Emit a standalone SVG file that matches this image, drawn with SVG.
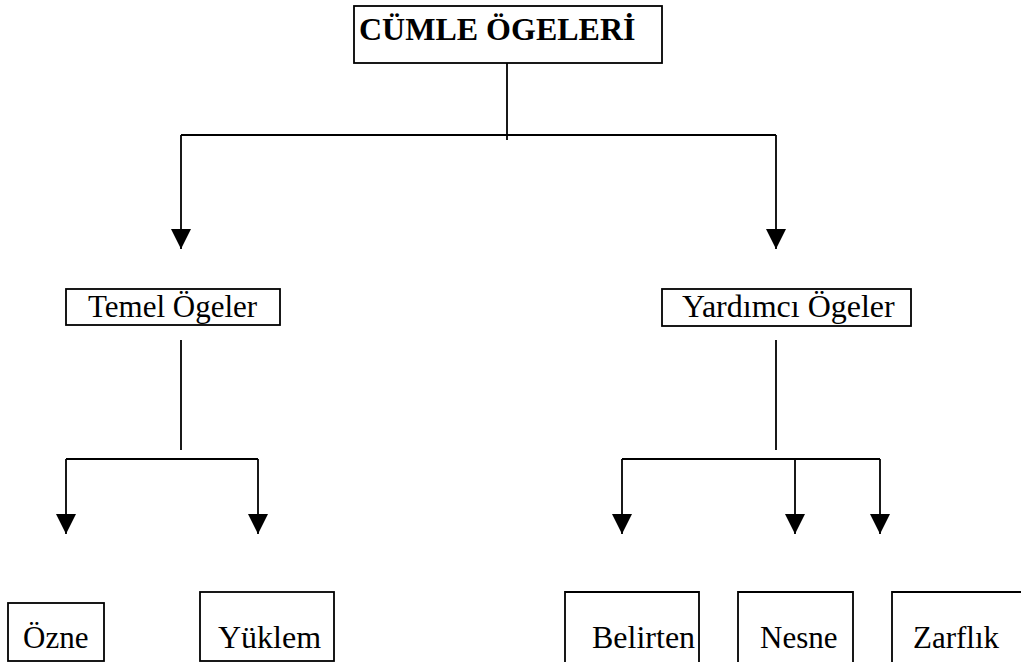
<svg xmlns="http://www.w3.org/2000/svg" width="1021" height="666" viewBox="0 0 1021 666">
<style>
.box{fill:#fff;stroke:#000;stroke-width:1.8}
.open{fill:none;stroke:#000;stroke-width:1.8}
.t{font-family:"Liberation Serif","Times New Roman",serif;font-size:31px;fill:#000}
.tl{font-family:"Liberation Serif","Times New Roman",serif;font-size:32px;fill:#000}
.tb{font-family:"Liberation Serif","Times New Roman",serif;font-size:32px;font-weight:bold;fill:#000}
.c{fill:none;stroke:#000;stroke-width:1.8}
</style>
<defs>
<marker id="ah" viewBox="0 -10 20 20" refX="20" refY="0" markerWidth="20" markerHeight="20" markerUnits="userSpaceOnUse" orient="auto">
<path d="M0,-10 L20,0 L0,10 z" fill="#000"/>
</marker>
</defs>
<rect width="1021" height="666" fill="#fff"/>
<g id="connectors">
<line class="c" x1="507" y1="63" x2="507" y2="140"/>
<line class="c" x1="181" y1="135" x2="776" y2="135"/>
<line class="c" x1="181" y1="135" x2="181" y2="249" marker-end="url(#ah)"/>
<line class="c" x1="776" y1="135" x2="776" y2="249" marker-end="url(#ah)"/>
<line class="c" x1="181" y1="340" x2="181" y2="450"/>
<line class="c" x1="66" y1="459" x2="258" y2="459"/>
<line class="c" x1="66" y1="459" x2="66" y2="534" marker-end="url(#ah)"/>
<line class="c" x1="258" y1="459" x2="258" y2="534" marker-end="url(#ah)"/>
<line class="c" x1="776" y1="340" x2="776" y2="450"/>
<line class="c" x1="622" y1="459" x2="880" y2="459"/>
<line class="c" x1="622" y1="459" x2="622" y2="534" marker-end="url(#ah)"/>
<line class="c" x1="795" y1="459" x2="795" y2="534" marker-end="url(#ah)"/>
<line class="c" x1="880" y1="459" x2="880" y2="534" marker-end="url(#ah)"/>
</g>
<g id="cumle-ogeleri">
<rect class="box" x="354" y="6" width="308" height="57"/>
<text class="tb" x="359" y="40">CÜMLE ÖGELERİ</text>
</g>
<g id="temel-ogeler">
<rect class="box" x="66" y="289" width="214" height="36"/>
<text class="t" x="88" y="317">Temel Ögeler</text>
</g>
<g id="yardimci-ogeler">
<rect class="box" x="662" y="289" width="249" height="37"/>
<text class="tl" x="682" y="317">Yardımcı Ögeler</text>
</g>
<g id="ozne">
<rect class="box" x="8" y="603" width="96" height="58"/>
<text class="t" x="23" y="648">Özne</text>
</g>
<g id="yuklem">
<rect class="box" x="200" y="592" width="134" height="69"/>
<text class="tl" x="218" y="648">Yüklem</text>
</g>
<g id="belirten">
<path class="open" d="M565,662 V592 H699 V662"/>
<text class="tl" x="592" y="648">Belirten</text>
</g>
<g id="nesne">
<path class="open" d="M738,662 V592 H853 V662"/>
<text class="t" x="760" y="648">Nesne</text>
</g>
<g id="zarflik">
<path class="open" d="M892,662 V592 H1021"/>
<text class="t" x="913" y="648">Zarflık</text>
</g>
</svg>
